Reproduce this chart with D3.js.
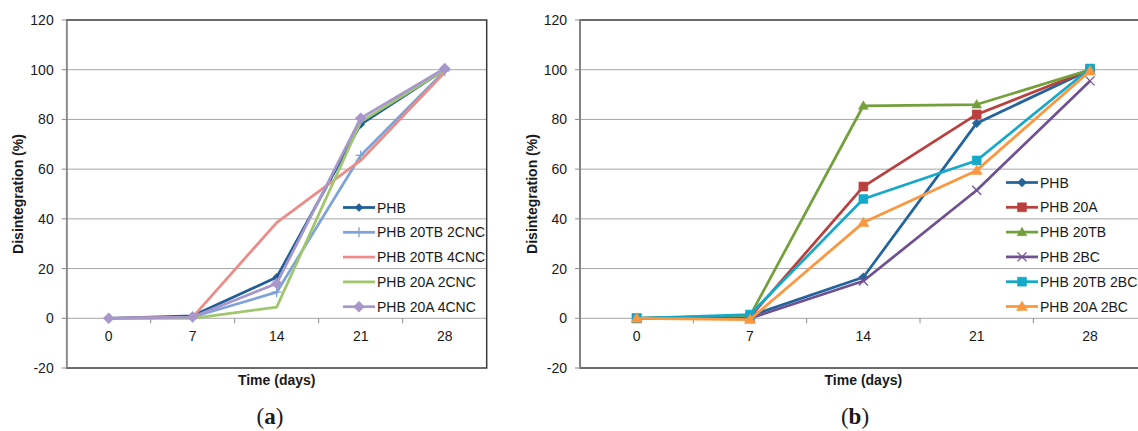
<!DOCTYPE html>
<html>
<head>
<meta charset="utf-8" />
<title>Disintegration vs time</title>
<style>
  body { margin: 0; background: #fff; }
  svg text { font-family: Arial, "Liberation Sans", sans-serif; fill: #1a1a1a; }
  .caption { font-family: "Liberation Serif", "Times New Roman", serif; }
</style>
</head>
<body>
<div id="chart"></div>
<script src="https://d3js.org/d3.v7.min.js"></script>
<script>
// categories and ticks
const days = ["0", "7", "14", "21", "28"];
const yTickValues = [-20, 0, 20, 40, 60, 80, 100, 120];

// chart (a) series
const namesA = ["PHB", "PHB 20TB 2CNC", "PHB 20TB 4CNC", "PHB 20A 2CNC", "PHB 20A 4CNC"];
const phbA = [0, 1, 16.5, 78, 100];
const phb20tb2cnc = [0, 0.5, 10.5, 65.5, 99.5];
const phb20tb4cnc = [0, 0.5, 38.5, 63.5, 99];
const phb20a2cnc = [0, 0, 4.5, 79, 100];
const phb20a4cnc = [0, 0.5, 14, 80.5, 100.5];

// chart (b) series
const namesB = ["PHB", "PHB 20A", "PHB 20TB", "PHB 2BC", "PHB 20TB 2BC", "PHB 20A 2BC"];
const phbB = [0, 1, 16.5, 78.5, 100];
const phb20a = [0, 0.5, 53, 82, 100];
const phb20tb = [0, 1, 85.5, 86, 100];
const phb2bc = [0, 0, 15, 51.5, 95.5];
const phb20tb2bc = [0, 1.5, 48, 63.5, 100.5];
const phb20a2bc = [0, -0.5, 38.5, 59.5, 99.5];

const W = 1138, H = 431;
const svg = d3.select("#chart").append("svg")
  .attr("width", W).attr("height", H);

// marker shapes, drawn around 0,0
function markerPath(type, r) {
  if (type === "diamond") return `M0,${-r}L${r},0L0,${r}L${-r},0Z`;
  if (type === "square") return `M${-r},${-r}H${r}V${r}H${-r}Z`;
  if (type === "triangle") return `M0,${-r * 1.1}L${r * 1.1},${r * 0.8}L${-r * 1.1},${r * 0.8}Z`;
  if (type === "plus") return `M${-r},0H${r}M0,${-r}V${r}`;
  if (type === "x") return `M${-r},${-r}L${r},${r}M${-r},${r}L${r},${-r}`;
  return null;
}
const strokeOnly = { plus: true, x: true };

function drawMarker(g, s, x, y) {
  if (!s.marker) return;
  const p = markerPath(s.marker, s.size);
  g.append("path")
    .attr("transform", `translate(${x},${y})`)
    .attr("d", p)
    .attr("fill", strokeOnly[s.marker] ? "none" : s.color)
    .attr("stroke", s.color)
    .attr("stroke-width", strokeOnly[s.marker] ? 1.3 : 0.5);
}

function drawChart(cfg) {
  const g = svg.append("g");
  const x = d3.scaleBand().domain(days).range([cfg.left, cfg.right]).padding(0);
  const y = d3.scaleLinear().domain([-20, 120]).range([368, 20]);
  const cx = d => x(d) + x.bandwidth() / 2;

  // gridlines
  g.selectAll(".grid").data(yTickValues.filter(v => v > -20 && v < 120)).enter()
    .append("line")
    .attr("x1", cfg.left).attr("x2", cfg.right)
    .attr("y1", d => y(d)).attr("y2", d => y(d))
    .attr("stroke", "#a6a6a6").attr("stroke-width", 1);

  // plot frame
  g.append("rect")
    .attr("x", cfg.left).attr("y", y(120))
    .attr("width", cfg.right - cfg.left).attr("height", y(-20) - y(120))
    .attr("fill", "none").attr("stroke", "#3a3a3a").attr("stroke-width", 1.5);
  g.append("line")
    .attr("x1", cfg.left).attr("x2", cfg.left)
    .attr("y1", y(120)).attr("y2", y(-20))
    .attr("stroke", "#8c8c8c").attr("stroke-width", 1.5);

  // y ticks + labels
  g.selectAll(".ytick").data(yTickValues).enter().append("line")
    .attr("x1", cfg.left - 5).attr("x2", cfg.left)
    .attr("y1", d => y(d)).attr("y2", d => y(d))
    .attr("stroke", "#8c8c8c");
  g.selectAll(".ylab").data(yTickValues).enter().append("text")
    .attr("x", cfg.left - 13).attr("y", d => y(d) + 5)
    .attr("text-anchor", "end").attr("font-size", 14)
    .text(d => d);

  // category axis on the zero line
  g.selectAll(".xtick").data(days.slice(1)).enter().append("line")
    .attr("x1", d => x(d)).attr("x2", d => x(d))
    .attr("y1", y(0)).attr("y2", y(0) + 5)
    .attr("stroke", "#8c8c8c");
  g.selectAll(".xlab").data(days).enter().append("text")
    .attr("x", cx).attr("y", y(0) + 23)
    .attr("text-anchor", "middle").attr("font-size", 14)
    .text(d => d);

  // axis titles
  const mid = (cfg.left + cfg.right) / 2;
  g.append("text")
    .attr("x", mid).attr("y", 385)
    .attr("text-anchor", "middle").attr("font-size", 14).attr("font-weight", "bold")
    .text("Time (days)");
  g.append("text")
    .attr("transform", `translate(${cfg.yTitleX},${194}) rotate(-90)`)
    .attr("text-anchor", "middle").attr("font-size", 14).attr("font-weight", "bold")
    .text("Disintegration (%)");

  // caption
  const cap = g.append("text").attr("class", "caption")
    .attr("x", cfg.captionX).attr("y", 424)
    .attr("text-anchor", "middle").attr("font-size", 23);
  cap.append("tspan").text("(");
  cap.append("tspan").attr("font-weight", "bold").text(cfg.caption);
  cap.append("tspan").text(")");

  // series
  const line = d3.line().x((d, i) => cx(days[i])).y(d => y(d));
  cfg.series.forEach(s => {
    g.append("path").datum(s.values)
      .attr("d", line)
      .attr("fill", "none").attr("stroke", s.color)
      .attr("stroke-width", 2.75).attr("stroke-linejoin", "round");
    s.values.forEach((v, i) => drawMarker(g, s, cx(days[i]), y(v)));
  });

  // legend (transparent, inside plot)
  cfg.series.forEach((s, i) => {
    const ly = cfg.legendTop + i * 24.8;
    g.append("line")
      .attr("x1", cfg.legendX).attr("x2", cfg.legendX + 32)
      .attr("y1", ly).attr("y2", ly)
      .attr("stroke", s.color).attr("stroke-width", 2.75);
    drawMarker(g, s, cfg.legendX + 16, ly);
    g.append("text")
      .attr("x", cfg.legendX + 34).attr("y", ly + 5)
      .attr("font-size", 14)
      .text(s.name);
  });
}

drawChart({
  left: 66.7, right: 486.7, yTitleX: 23, captionX: 270, caption: "a",
  legendX: 343, legendTop: 207.5,
  series: [
    { name: namesA[0], values: phbA, color: "#1f5e96", marker: "diamond", size: 4 },
    { name: namesA[1], values: phb20tb2cnc, color: "#7fa3d7", marker: "plus", size: 5 },
    { name: namesA[2], values: phb20tb4cnc, color: "#ec8b87", marker: null },
    { name: namesA[3], values: phb20a2cnc, color: "#a0c66e", marker: null },
    { name: namesA[4], values: phb20a4cnc, color: "#a797cb", marker: "diamond", size: 5.5 }
  ]
});

drawChart({
  left: 580, right: 1146.7, yTitleX: 537, captionX: 855, caption: "b",
  legendX: 1006, legendTop: 182.5,
  series: [
    { name: namesB[0], values: phbB, color: "#23649c", marker: "diamond", size: 4.5 },
    { name: namesB[1], values: phb20a, color: "#b9403e", marker: "square", size: 4.5 },
    { name: namesB[2], values: phb20tb, color: "#74a03c", marker: "triangle", size: 4.5 },
    { name: namesB[3], values: phb2bc, color: "#6f5192", marker: "x", size: 4.5 },
    { name: namesB[4], values: phb20tb2bc, color: "#15a9c9", marker: "square", size: 4.5 },
    { name: namesB[5], values: phb20a2bc, color: "#fb973f", marker: "triangle", size: 5 }
  ]
});
</script>
</body>
</html>
